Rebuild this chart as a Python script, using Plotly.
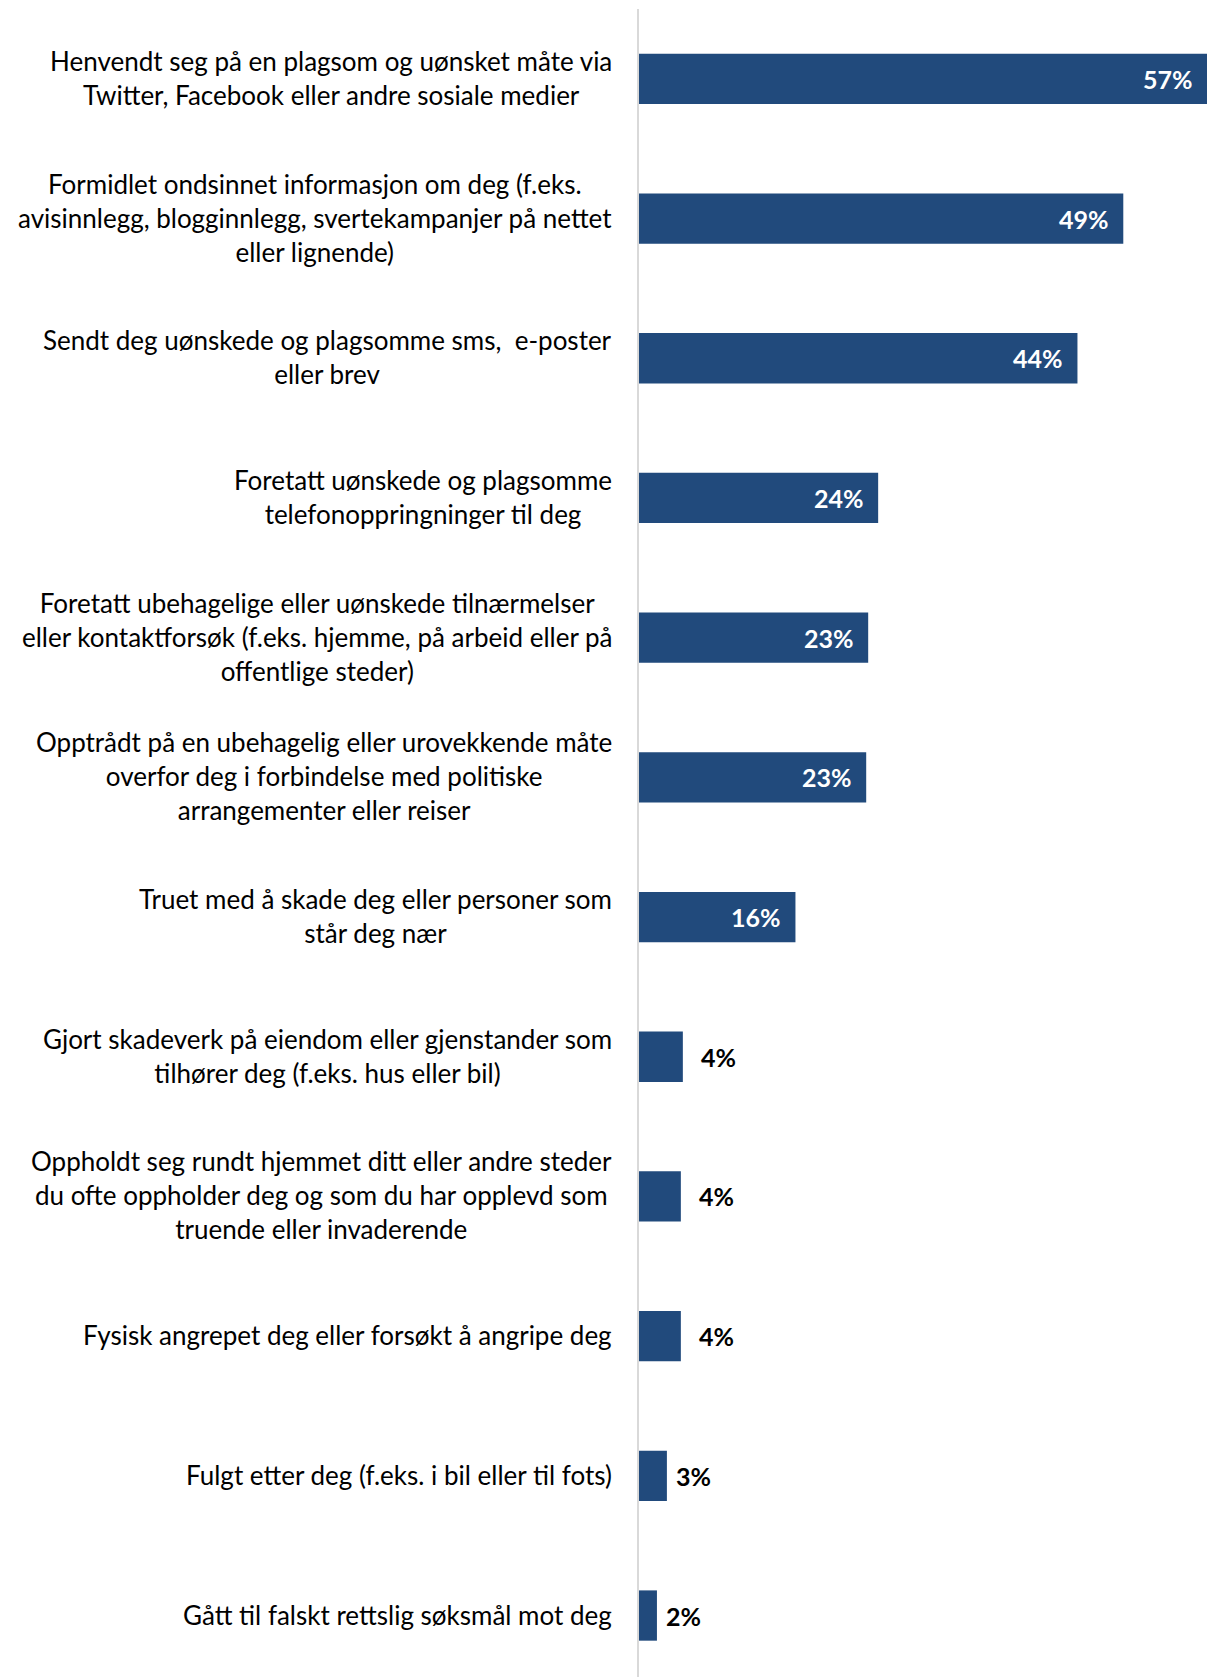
import plotly.graph_objects as go

categories = [
    "Henvendt seg på en plagsom og uønsket måte via<br>Twitter, Facebook eller andre sosiale medier",
    "Formidlet ondsinnet informasjon om deg (f.eks.<br>avisinnlegg, blogginnlegg, svertekampanjer på nettet<br>eller lignende)",
    "Sendt deg uønskede og plagsomme sms,  e-poster<br>eller brev",
    "Foretatt uønskede og plagsomme<br>telefonoppringninger til deg",
    "Foretatt ubehagelige eller uønskede tilnærmelser<br>eller kontaktforsøk (f.eks. hjemme, på arbeid eller på<br>offentlige steder)",
    "Opptrådt på en ubehagelig eller urovekkende måte<br>overfor deg i forbindelse med politiske<br>arrangementer eller reiser",
    "Truet med å skade deg eller personer som<br>står deg nær",
    "Gjort skadeverk på eiendom eller gjenstander som<br>tilhører deg (f.eks. hus eller bil)",
    "Oppholdt seg rundt hjemmet ditt eller andre steder<br>du ofte oppholder deg og som du har opplevd som<br>truende eller invaderende",
    "Fysisk angrepet deg eller forsøkt å angripe deg",
    "Fulgt etter deg (f.eks. i bil eller til fots)",
    "Gått til falskt rettslig søksmål mot deg",
]
values = [57.0, 48.6, 44.0, 24.0, 23.0, 22.8, 15.7, 4.4, 4.2, 4.2, 2.8, 1.8]
value_labels = ["57%", "49%", "44%", "24%", "23%", "23%", "16%", "4%", "4%", "4%", "3%", "2%"]

BAR_COLOR = "#214a7c"
FONT = "Lato"
idx = list(range(len(categories)))

fig = go.Figure(
    go.Bar(
        x=values,
        y=idx,
        orientation="h",
        width=0.36,
        marker=dict(color=BAR_COLOR, line=dict(width=0)),
        hoverinfo="skip",
    )
)

annotations = []
for i, (cat, v, lab) in enumerate(zip(categories, values, value_labels)):
    annotations.append(dict(
        xref="paper", yref="y", x=0, y=i, xanchor="right", yanchor="middle",
        xshift=-25, yshift=1, text=cat, align="center", showarrow=False,
        font=dict(family=FONT, size=26, color="#000000"),
    ))
    if v >= 10:
        annotations.append(dict(
            xref="x", yref="y", x=v, y=i, xanchor="right", yanchor="middle",
            xshift=-12, text="<b>" + lab + "</b>", showarrow=False,
            font=dict(family=FONT, size=25, color="#ffffff"),
        ))
    else:
        annotations.append(dict(
            xref="x", yref="y", x=v, y=i, xanchor="left", yanchor="middle",
            xshift=16 if v >= 4 else 7, text="<b>" + lab + "</b>", showarrow=False,
            font=dict(family=FONT, size=25, color="#000000"),
        ))

fig.update_layout(
    width=1207,
    height=1677,
    margin=dict(l=639, r=0, t=9, b=0, autoexpand=False),
    paper_bgcolor="#ffffff",
    plot_bgcolor="#ffffff",
    showlegend=False,
    annotations=annotations,
    xaxis=dict(range=[0, 57], visible=False, fixedrange=True),
    yaxis=dict(
        range=[11.44, -0.5],
        showticklabels=False,
        showgrid=False,
        zeroline=False,
        showline=True,
        linecolor="#d9d9d9",
        linewidth=2,
        ticks="",
        fixedrange=True,
    ),
)

fig.write_html(
    "out.html",
    config={"displayModeBar": False},
    post_script="document.body.style.margin='0';document.body.style.overflow='hidden';",
)
